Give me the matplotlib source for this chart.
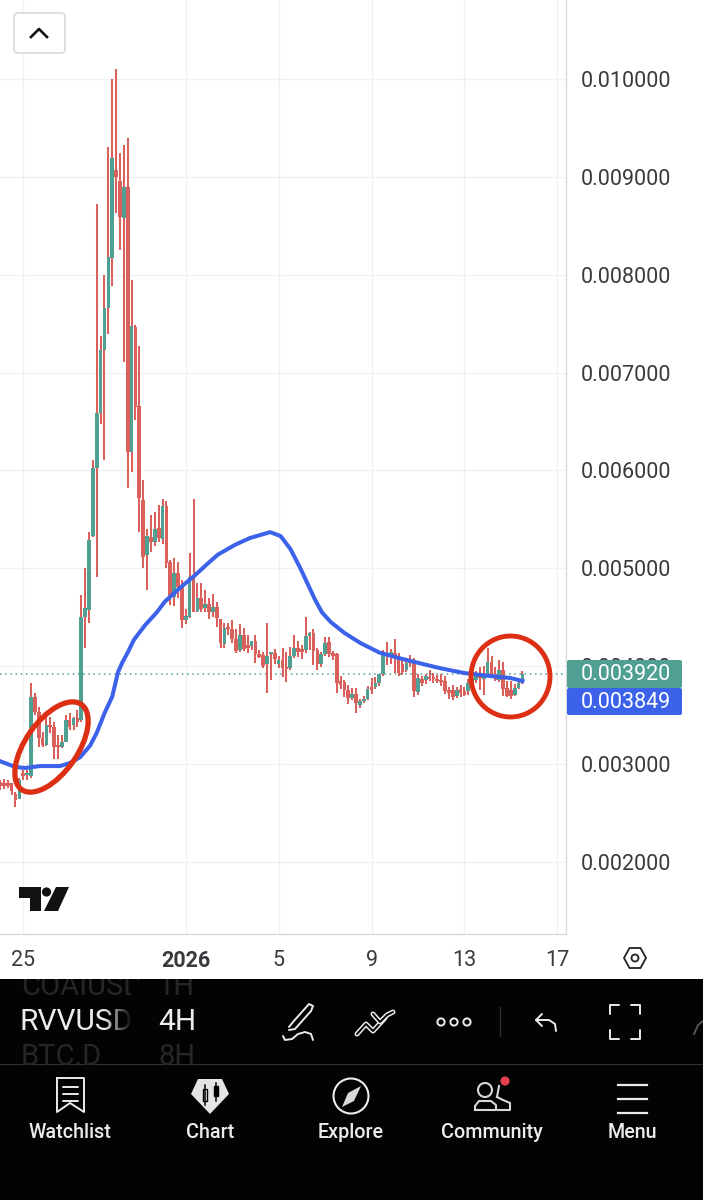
import matplotlib
matplotlib.use("Agg")
import matplotlib.pyplot as plt
from matplotlib.patches import Rectangle, FancyBboxPatch, Ellipse, Circle, Polygon
from matplotlib.ticker import FuncFormatter

plt.rcParams['font.family'] = ['Roboto', 'DejaVu Sans']

# OHLC for each 4H bar, in millionths of a dollar
opens = [2820,2810,2810,2810,2690,2640,2910,2890,2880,3690,3530,3270,3200,3400,3380,3190,3170,3230,3450,3400,3470,
         3450,4500,4570,5330,6030,6590,7230,7660,8170,9070,8960,8580,8900,6190,7470,6660,5700,5140,5320,5270,5410,
         5300,5640,5060,4710,4950,4810,4470,4500,4910,4560,4700,4590,4640,4550,4610,4480,4230,4400,4380,4280,4170,
         4320,4200,4210,4260,4120,4110,4020,4120,4140,4020,4060,3980,3980,4100,4190,4170,4170,4310,4340,4170,4020,
         4120,4250,4130,4120,3850,3840,3760,3680,3720,3600,3640,3670,3790,3790,3830,3920,4120,4090,4140,4090,4020,
         3960,4060,4050,3740,3870,3860,3890,3880,3870,3860,3850,3760,3760,3700,3770,3750,3750,3830,3860,3920,3870,
         3910,4040,3920,3860,3960,3780,3760,3710,3780,3830]
highs = [2840,2850,2840,2810,2710,2860,2940,2940,3830,3730,3580,3330,3480,3480,3430,3300,3300,3500,3520,3480,3550,
         4730,5000,5370,6110,8720,7370,8000,9300,10000,10100,9240,9330,9400,7950,7490,7270,5900,5400,5550,5580,5650,
         5710,5690,5090,5110,5060,4880,4580,5160,5710,4850,4850,4780,4700,4740,4660,4480,4440,4440,4470,4380,4430,
         4390,4320,4260,4320,4170,4150,4440,4150,4180,4100,4190,4150,4200,4320,4260,4220,4500,4350,4380,4190,4150,
         4300,4300,4160,4130,3900,3860,3810,3780,3780,3660,3700,3800,3880,3890,3920,4170,4250,4180,4280,4130,4080,
         4080,4110,4080,3920,3900,3920,3960,3930,3910,3920,3900,3790,3810,3790,3810,3790,3870,3920,3950,3990,4000,
         4190,4100,3990,4060,4040,3850,3850,3820,3870,3950]
lows = [2740,2750,2760,2680,2560,2640,2840,2840,2860,3500,3170,3170,3180,3320,3050,3050,3160,3230,3350,3350,3380,
        3430,4190,4440,5320,4910,6470,6110,7390,7880,8630,8250,7110,5820,5980,6520,5370,5000,4780,5170,5230,5270,
        5250,5000,4630,4620,4700,4390,4430,4490,4550,4550,4550,4550,4480,4500,4400,4190,4190,4320,4240,4140,4150,
        4160,4140,4170,4030,4080,3980,3730,3860,4020,3980,3890,3840,3960,4080,4090,4070,4140,4170,4010,3960,3990,
        4100,4090,4060,3730,3770,3690,3610,3650,3520,3570,3620,3650,3720,3770,3800,3900,4010,4020,3930,3900,3910,
        3940,3990,3690,3710,3800,3820,3850,3830,3830,3800,3720,3670,3650,3680,3690,3700,3710,3800,3830,3760,3710,
        3900,3890,3850,3840,3700,3690,3670,3700,3770,3820]
closes = [2780,2780,2780,2720,2630,2840,2880,2910,3690,3530,3270,3190,3400,3380,3170,3170,3230,3450,3380,3470,3430,
          4500,4590,5290,6030,6590,7230,7660,8180,9190,9000,8590,8900,6190,7480,6650,5720,5120,5330,5270,5400,5310,
          5640,5050,4700,4950,4810,4470,4510,4910,4550,4700,4580,4640,4550,4610,4490,4240,4390,4380,4280,4160,4320,
          4180,4190,4260,4120,4090,4000,4100,4140,4070,4060,3980,3970,4100,4190,4150,4150,4310,4340,4160,4020,4120,
          4240,4120,4100,3830,3810,3760,3680,3720,3620,3640,3670,3770,3760,3830,3920,4120,4100,4150,4080,3930,3940,
          4030,4030,3750,3880,3830,3900,3870,3870,3850,3840,3750,3730,3690,3760,3730,3710,3830,3880,3900,3880,3920,
          4040,3900,3860,3960,3770,3700,3700,3780,3830,3920]

# moving average sampled along the curve: bar position, value
ma_bar = [0,4,6.5,10.3,15.5,18,20.7,23.3,25,27,29,30.5,31.5,33,34.6,37.5,40.5,42.6,46.5,50.4,53.7,56.3,60.7,64.6,
          69.8,72.5,75,77.5,81.4,83.2,85.5,89,93,98,103.4,108.5,113.7,120,126.6,131.8,135]
ma_val = [3030,2970,2960,2980,2980,3010,3070,3190,3320,3520,3690,3940,4030,4140,4270,4420,4550,4660,4800,4930,5050,5140,
          5240,5310,5370,5330,5200,5010,4680,4550,4450,4340,4240,4140,4080,4030,3980,3930,3900,3880,3849]

price_ticks = [2000,3000,4000,5000,6000,7000,8000,9000,10000]
time_ticks = [6,48,72,96,120,144]
time_labels = ['25','2026','5','9','13','17']
last_price = 3920
last_ma = 3849

GREEN, RED, BLUE, GRID = '#4f9f93', '#d9605b', '#3c62ea', '#f1f1f4'
W, H = 703, 1200
fig = plt.figure(figsize=(W/100, H/100), dpi=100, facecolor='white')
ax = fig.add_axes([0, (H-934)/H, 566/W, 934/H])
ax.set_xlim(0, 146.25)
ax.set_ylim(1264, 10807)
ax.set_axisbelow(True)
ax.grid(True, color=GRID, lw=1.0)
for s in ['top', 'left']:
    ax.spines[s].set_visible(False)
for s in ['right', 'bottom']:
    ax.spines[s].set_color('#d9dade')
    ax.spines[s].set_linewidth(1.0)

ax.set_xticks(time_ticks)
ax.set_xticklabels(time_labels, fontsize=15.5, color='#3a3a3e')
ax.get_xticklabels()[1].set_fontweight('bold')
ax.tick_params(axis='x', length=0, pad=11.5)
ax.yaxis.tick_right()
ax.set_yticks(price_ticks)
ax.yaxis.set_major_formatter(FuncFormatter(lambda v, _: f"{v/1e6:.6f}"))
ax.tick_params(axis='y', length=0, pad=10.8, labelsize=15.5, labelcolor='#3a3a3e')

ax.axhline(last_price, color=GREEN, lw=1.1, ls=(0, (1, 2.4)), zorder=1.5)

bars = list(range(len(opens)))
ax.vlines(bars, lows, highs, color=RED, lw=1.45, zorder=2)
for i in bars:
    lo, hi = min(opens[i], closes[i]), max(opens[i], closes[i])
    col = GREEN if closes[i] >= opens[i] else RED
    ax.bar(i, max(hi - lo, 22), bottom=lo, width=0.95, color=col, lw=0, zorder=3 if col == GREEN else 2.5)
ax.plot(ma_bar, ma_val, color=BLUE, lw=2.9, zorder=4, solid_joinstyle='round')

# overlay in pixel coordinates
ui = fig.add_axes([0, 0, 1, 1], zorder=5)
ui.set_xlim(0, W)
ui.set_ylim(H, 0)
ui.axis('off')
ui.patch.set_alpha(0)

# red hand-drawn marks
ui.add_patch(Ellipse((51.5, 747), 104, 52, angle=-55, fill=False, ec='#dc2f14', lw=3.8))
ui.add_patch(Ellipse((510.5, 676.5), 79, 81, fill=False, ec='#dc2f14', lw=3.5))

# collapse button
ui.add_patch(FancyBboxPatch((14, 13), 51, 40, boxstyle='round,pad=0,rounding_size=4', fc='white', ec='#dcdcdc', lw=1.3))
ui.plot([31, 39, 47], [37, 29, 37], color='#111111', lw=1.9)

# price labels
ui.add_patch(FancyBboxPatch((567, 660), 115, 28, boxstyle='round,pad=0,rounding_size=2', fc=GREEN, ec='none'))
ui.add_patch(FancyBboxPatch((567, 688), 115, 27, boxstyle='round,pad=0,rounding_size=2', fc=BLUE, ec='none'))
ui.text(626, 674.5, f"{last_price/1e6:.6f}", color='white', fontsize=15.5, ha='center', va='center')
ui.text(626, 702, f"{last_ma/1e6:.6f}", color='white', fontsize=15.5, ha='center', va='center')

# logo
LOGO = '#111111'
ui.add_patch(Polygon([(19, 887), (41, 887), (41, 911), (30, 911), (30, 898), (19, 898)], fc=LOGO, ec='none'))
ui.add_patch(Circle((46.5, 892), 4.6, fc=LOGO, ec='none'))
ui.add_patch(Polygon([(56, 887), (69, 887), (58, 911), (44, 911)], fc=LOGO, ec='none'))

# settings hexagon
ui.add_patch(Polygon([(624, 958), (629.5, 948), (640.5, 948), (646, 958), (640.5, 968), (629.5, 968)], fill=False, ec='#222222', lw=1.3))
ui.add_patch(Circle((635, 958), 3.5, fill=False, ec='#222222', lw=1.3))

# dark panel
ui.add_patch(Rectangle((0, 979), W, H-979, fc='#030303', ec='none'))
clip = Rectangle((0, 979), W, H-979, transform=ui.transData)
FG = '#ececec'
t1 = ui.text(21, 987, 'COAIUSD', color='#262626', fontsize=21, va='center', ha='left')
t2 = ui.text(158, 987, '1H', color='#262626', fontsize=21, va='center', ha='left')
t1.set_clip_path(clip); t2.set_clip_path(clip)
t1.set_clip_on(True); t2.set_clip_on(True)
ui.text(20, 1022, 'RVVUSD', color=FG, fontsize=21.5, va='center', ha='left')
ui.text(158, 1022, '4H', color=FG, fontsize=21.5, va='center', ha='left')
ui.text(21, 1057, 'BTC.D', color='#262626', fontsize=21, va='center', ha='left')
ui.text(158, 1057, '8H', color='#262626', fontsize=21, va='center', ha='left')
for k in range(14):
    ui.add_patch(Rectangle((105+k*2, 1005), 2, 34, fc='#030303', ec='none', alpha=min(1, (k+1)/14), zorder=4))
ui.add_patch(Rectangle((131, 980), 25, 84, fc='#030303', ec='none', zorder=4))
ui.add_patch(Rectangle((0, 1064), W, 1, fc='#333333', ec='none'))

# toolbar icons
IC = dict(color=FG, lw=1.4, solid_capstyle='round', solid_joinstyle='round')
ui.plot([289, 293, 309, 313, 311, 295, 289], [1027, 1022, 1004, 1006, 1011, 1029, 1030], **IC)
ui.plot([283, 285, 292, 298, 305, 311, 313], [1036, 1040, 1039, 1034, 1032, 1034, 1040], **IC)
ui.plot([357, 366, 373, 385], [1034, 1024, 1031, 1018], color=FG, lw=3.6, solid_capstyle='round')
ui.plot([357, 366, 373, 385], [1034, 1024, 1031, 1018], color='#030303', lw=1.4, solid_capstyle='round')
ui.plot([373, 380, 387, 393], [1014, 1022, 1015, 1012], color=FG, lw=3.6, solid_capstyle='round')
ui.plot([373, 380, 387, 393], [1014, 1022, 1015, 1012], color='#030303', lw=1.4, solid_capstyle='round')
for cx in (441, 454, 467):
    ui.add_patch(Circle((cx, 1022), 3.6, fill=False, ec=FG, lw=1.4))
ui.plot([500, 500], [1007, 1036], color='#2c2c2c', lw=1)
ui.plot([542, 536, 542], [1014, 1020, 1026], **IC)
ui.plot([536, 549, 555, 556], [1020, 1020, 1024, 1031], **IC)
for x0, x1, y0, y1 in [(610, 619, 1014, 1005), (640, 631, 1014, 1005), (610, 619, 1030, 1039), (640, 631, 1030, 1039)]:
    ui.plot([x0, x0, x1], [y0, y1, y1], **IC)
ui.plot([694, 698, 703], [1034, 1025, 1021], color='#555555', lw=1.4)

# navigation icons
ui.plot([57, 57, 70, 84, 84, 57], [1078, 1112, 1103, 1112, 1078, 1078], **IC)
for yy in (1087, 1094, 1101):
    ui.plot([63, 78], [yy, yy], **IC)
ui.add_patch(Polygon([(198, 1079), (222, 1079), (229, 1094), (210, 1114), (191, 1094)], fc='#e4e4e4', ec='none'))
for cx, y0, y1, b0, b1 in [(205, 1085, 1105, 1089, 1101), (216, 1083, 1101, 1086, 1096)]:
    ui.plot([cx, cx], [y0, y1], color='#030303', lw=1.1)
    ui.add_patch(Rectangle((cx-2.3, b0), 4.6, b1-b0, fc='#030303' if cx > 210 else '#e4e4e4', ec='#030303', lw=1))
ui.add_patch(Circle((351, 1096), 17.5, fill=False, ec=FG, lw=1.5))
ui.add_patch(Polygon([(361, 1086), (354, 1101), (342, 1107), (348, 1093)], fc='#d8d8d8', ec='none'))
ui.add_patch(Circle((485, 1090), 7, fill=False, ec='#d8d8d8', lw=1.5))
ui.plot([475, 475, 479, 491, 496, 496, 475], [1110, 1106, 1101, 1101, 1105, 1110, 1110], color='#d8d8d8', lw=1.5)
ui.plot([499, 497], [1086, 1097], color='#d8d8d8', lw=1.5)
ui.plot([497, 503, 510, 510, 498], [1097, 1100, 1103, 1110, 1110], color='#d8d8d8', lw=1.5)
ui.add_patch(Circle((505, 1081), 4.6, fc='#e5404d', ec='none'))
for yy in (1086, 1100, 1114):
    ui.plot([618, 647], [yy-1, yy-1], color=FG, lw=1.6)

for label, cx in [('Watchlist', 70), ('Chart', 210.5), ('Explore', 351), ('Community', 491.5), ('Menu', 632.5)]:
    ui.text(cx, 1132, label, color=FG, fontsize=14.2, fontweight='medium', ha='center', va='center')

fig.savefig('out.png', dpi=100, facecolor='white')
